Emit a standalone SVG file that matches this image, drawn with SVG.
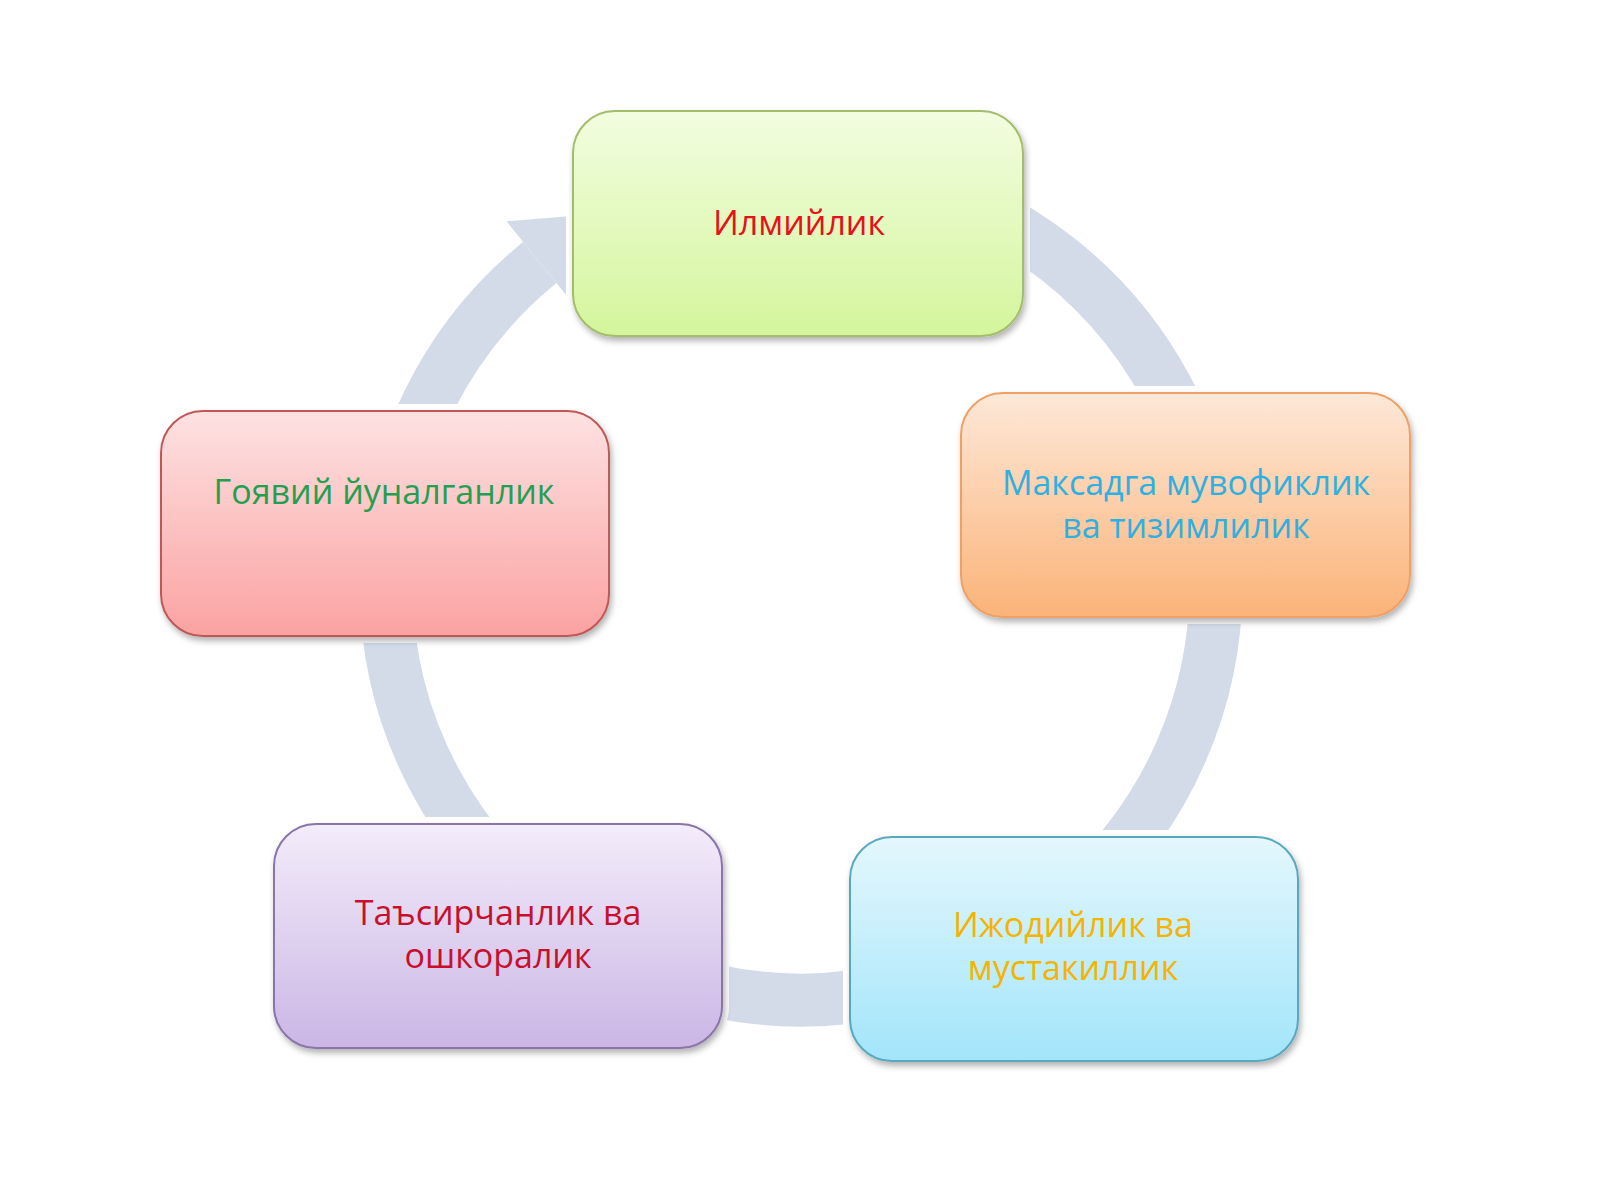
<svg xmlns="http://www.w3.org/2000/svg" width="1600" height="1200" viewBox="0 0 1600 1200">
  <defs>
    <linearGradient id="gGreen" x1="0" y1="0" x2="0" y2="1">
      <stop offset="0" stop-color="#f2fde0"/>
      <stop offset="1" stop-color="#d4f59c"/>
    </linearGradient>
    <linearGradient id="gOrange" x1="0" y1="0" x2="0" y2="1">
      <stop offset="0" stop-color="#fde8d8"/>
      <stop offset="1" stop-color="#fbb378"/>
    </linearGradient>
    <linearGradient id="gPink" x1="0" y1="0" x2="0" y2="1">
      <stop offset="0" stop-color="#fde2e2"/>
      <stop offset="1" stop-color="#fba2a2"/>
    </linearGradient>
    <linearGradient id="gPurple" x1="0" y1="0" x2="0" y2="1">
      <stop offset="0" stop-color="#f3ecfa"/>
      <stop offset="1" stop-color="#cbb6e5"/>
    </linearGradient>
    <linearGradient id="gCyan" x1="0" y1="0" x2="0" y2="1">
      <stop offset="0" stop-color="#e4f7fd"/>
      <stop offset="1" stop-color="#a2e5fa"/>
    </linearGradient>
    <filter id="shadow" x="-10%" y="-10%" width="120%" height="130%">
      <feDropShadow dx="2" dy="4" stdDeviation="3" flood-color="#000000" flood-opacity="0.3"/>
    </filter>
  </defs>
  <style>
    .halo { fill: #ffffff; stroke: #ffffff; stroke-width: 14; }
    .box { stroke-width: 2; filter: url(#shadow); }
    .lbl { font-family: "Open Sans", "Noto Sans", sans-serif; font-size: 34px; text-anchor: middle; }
    .ring { fill: none; stroke: #d3dbe9; stroke-width: 53; }
    .head { fill: #d3dbe9; }
  </style>

  <rect width="1600" height="1200" fill="#ffffff"/>

  <g id="connectors">
    <path class="ring" d="M 873.1 176.3 A 415 415 0 1 1 539.8 262.5"/>
    <polygon class="head" points="506.5,221.3 619,212 573.2,303.7"/>
  </g>

  <g id="node-ilmiylik">
    <rect class="halo" x="573" y="111" width="450" height="225" rx="42"/>
    <rect class="box" x="573" y="111" width="450" height="225" rx="42" fill="url(#gGreen)" stroke="#a3bd6c"/>
    <text class="lbl" x="799" y="235" fill="#e8101a">Илмийлик</text>
  </g>

  <g id="node-maksadga">
    <rect class="halo" x="961" y="393" width="449" height="224" rx="42"/>
    <rect class="box" x="961" y="393" width="449" height="224" rx="42" fill="url(#gOrange)" stroke="#eea066"/>
    <text class="lbl" x="1186" y="495" fill="#2eb0e0">Максадга мувофиклик</text>
    <text class="lbl" x="1186" y="538" fill="#2eb0e0">ва тизимлилик</text>
  </g>

  <g id="node-ijodiylik">
    <rect class="halo" x="850" y="837" width="448" height="224" rx="42"/>
    <rect class="box" x="850" y="837" width="448" height="224" rx="42" fill="url(#gCyan)" stroke="#5aa8c0"/>
    <text class="lbl" x="1073" y="937" fill="#f5b400">Ижодийлик ва</text>
    <text class="lbl" x="1073" y="980" fill="#f5b400">мустакиллик</text>
  </g>

  <g id="node-tasirchanlik">
    <rect class="halo" x="274" y="824" width="448" height="224" rx="42"/>
    <rect class="box" x="274" y="824" width="448" height="224" rx="42" fill="url(#gPurple)" stroke="#8a74aa"/>
    <text class="lbl" x="498" y="925" fill="#c8102e">Таъсирчанлик ва</text>
    <text class="lbl" x="498" y="968" fill="#c8102e">ошкоралик</text>
  </g>

  <g id="node-goyaviy">
    <rect class="halo" x="161" y="411" width="448" height="225" rx="42"/>
    <rect class="box" x="161" y="411" width="448" height="225" rx="42" fill="url(#gPink)" stroke="#c05858"/>
    <text class="lbl" x="384" y="504" fill="#22a050">Гоявий йуналганлик</text>
  </g>
</svg>
